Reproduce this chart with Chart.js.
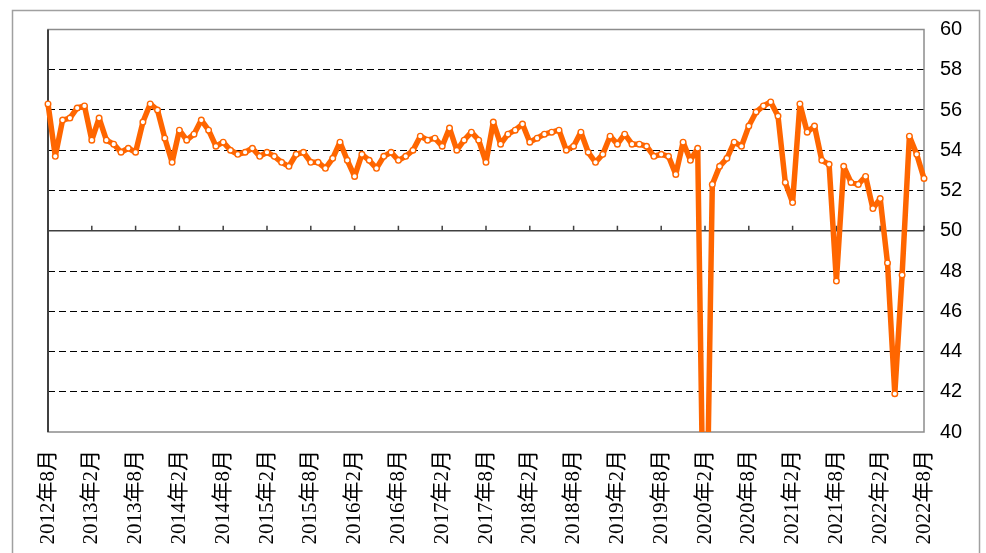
<!DOCTYPE html>
<html>
<head>
<meta charset="utf-8">
<script src="https://cdn.jsdelivr.net/npm/chart.js@4/dist/chart.umd.min.js"></script>
<style>
    html, body { margin: 0; padding: 0; background: #fff; }
    #wrap { width: 986px; height: 553px; }
</style>
</head>
<body>
<div id="wrap"><canvas id="pmiChart" width="986" height="553"></canvas></div>
<script>
// monthly index, 2012年8月 .. 2022年8月
const startYear = 2012;
const startMonth = 8;

const pmiValues = [
    56.3, 53.7, 55.5, 55.6, 56.1,                                     // 2012 8-12
    56.2, 54.5, 55.6, 54.5, 54.3, 53.9, 54.1, 53.9, 55.4, 56.3, 56.0, 54.6, // 2013
    53.4, 55.0, 54.5, 54.8, 55.5, 55.0, 54.2, 54.4, 54.0, 53.8, 53.9, 54.1, // 2014
    53.7, 53.9, 53.7, 53.4, 53.2, 53.8, 53.9, 53.4, 53.4, 53.1, 53.6, 54.4, // 2015
    53.5, 52.7, 53.8, 53.5, 53.1, 53.7, 53.9, 53.5, 53.7, 54.0, 54.7, 54.5, // 2016
    54.6, 54.2, 55.1, 54.0, 54.5, 54.9, 54.5, 53.4, 55.4, 54.3, 54.8, 55.0, // 2017
    55.3, 54.4, 54.6, 54.8, 54.9, 55.0, 54.0, 54.2, 54.9, 53.9, 53.4, 53.8, // 2018
    54.7, 54.3, 54.8, 54.3, 54.3, 54.2, 53.7, 53.8, 53.7, 52.8, 54.4, 53.5, // 2019
    54.1, 29.6, 52.3, 53.2, 53.6, 54.4, 54.2, 55.2, 55.9, 56.2, 56.4, 55.7, // 2020
    52.4, 51.4, 56.3, 54.9, 55.2, 53.5, 53.3, 47.5, 53.2, 52.4, 52.3, 52.7, // 2021
    51.1, 51.6, 48.4, 41.9, 47.8, 54.7, 53.8, 52.6                    // 2022 1-8
];

const tickLabels = [
    '2012年8月', '2013年2月', '2013年8月', '2014年2月', '2014年8月',
    '2015年2月', '2015年8月', '2016年2月', '2016年8月', '2017年2月',
    '2017年8月', '2018年2月', '2018年8月', '2019年2月', '2019年8月',
    '2020年2月', '2020年8月', '2021年2月', '2021年8月', '2022年2月',
    '2022年8月'
];

const yMin = 40, yMax = 60, yStep = 2, yAxisLine = 50;

const months = [];
for (let k = 0; k < pmiValues.length; k++) {
    const m = startMonth - 1 + k;
    months.push(`${startYear + Math.floor(m / 12)}年${(m % 12) + 1}月`);
}

const ORANGE = '#FF6600';

// frame, plot border, 50-line with tick marks
const framePlugin = {
    id: 'frame',
    beforeDatasetsDraw(chart) {
        const { ctx, chartArea: a, scales } = chart;
        const y50 = scales.y.getPixelForValue(yAxisLine);
        ctx.save();
        ctx.strokeStyle = '#a0a0a0';
        ctx.lineWidth = 1.5;
        ctx.strokeRect(12.5, 10.5, 967, 560);

        ctx.strokeStyle = '#8c8c8c';
        ctx.lineWidth = 1.5;
        ctx.strokeRect(a.left, a.top, a.right - a.left, a.bottom - a.top);

        ctx.strokeStyle = '#404040';
        ctx.lineWidth = 2;
        ctx.beginPath();
        ctx.moveTo(a.left, a.top);
        ctx.lineTo(a.left, a.bottom);
        ctx.stroke();

        ctx.lineWidth = 1.5;
        ctx.beginPath();
        ctx.moveTo(a.left, y50);
        ctx.lineTo(a.right, y50);
        for (let k = 0; k < months.length; k += 6) {
            const x = scales.x.getPixelForValue(k);
            ctx.moveTo(x, y50);
            ctx.lineTo(x, y50 - 5);
        }
        ctx.stroke();
        ctx.restore();
    }
};

new Chart(document.getElementById('pmiChart'), {
    type: 'line',
    data: {
        labels: months,
        datasets: [{
            data: pmiValues,
            borderColor: ORANGE,
            borderWidth: 5.5,
            borderJoinStyle: 'round',
            pointRadius: 2.8,
            pointBorderWidth: 1.4,
            pointBackgroundColor: '#ffffff',
            pointBorderColor: ORANGE,
            tension: 0
        }]
    },
    options: {
        responsive: false,
        animation: false,
        layout: { padding: { left: 48, top: 29.5, right: 0, bottom: 0 } },
        plugins: { legend: { display: false }, tooltip: { enabled: false } },
        scales: {
            x: {
                offset: false,
                grid: { display: false },
                border: { display: false },
                ticks: {
                    autoSkip: false,
                    minRotation: 90,
                    maxRotation: 90,
                    padding: 10,
                    color: '#000',
                    font: { family: '"Liberation Serif", "Noto Sans CJK SC", serif', size: 21 },
                    callback: (v, i) => (i % 6 === 0 ? tickLabels[i / 6] : null)
                },
                afterFit: s => { s.height = 121; }
            },
            y: {
                position: 'right',
                min: yMin,
                max: yMax,
                grid: {
                    drawTicks: false,
                    lineWidth: 1,
                    color: c => ([yMin, yMax, yAxisLine].includes(c.tick.value) ? 'rgba(0,0,0,0)' : '#000')
                },
                border: { display: false, dash: [7, 4] },
                ticks: {
                    stepSize: yStep,
                    padding: 16,
                    color: '#000',
                    font: { family: '"Liberation Sans", Arial, sans-serif', size: 20 }
                },
                afterFit: s => { s.width = 62; }
            }
        }
    },
    plugins: [framePlugin]
});
</script>
</body>
</html>
